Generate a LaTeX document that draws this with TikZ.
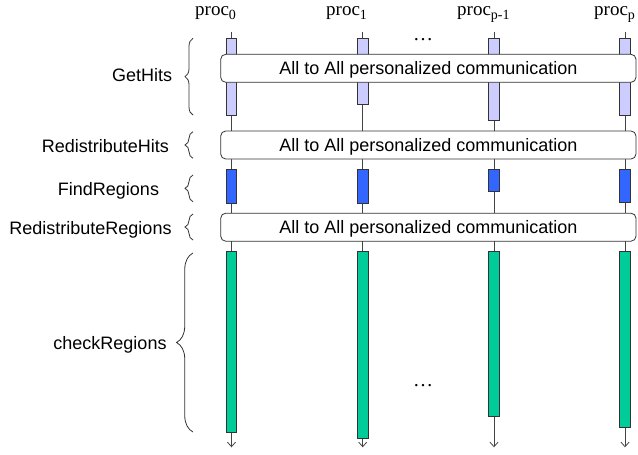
\documentclass[tikz,border=0pt]{standalone}
\usepackage{fontspec}
\setmainfont{Liberation Serif}
\setsansfont{Liberation Sans}
\usetikzlibrary{decorations.pathreplacing,arrows.meta}
\definecolor{lav}{HTML}{CCCCFF}
\definecolor{bblue}{HTML}{3366FF}
\definecolor{bgreen}{HTML}{00CC99}
\definecolor{edge}{HTML}{333333}
\definecolor{lineg}{HTML}{444444}
\newcommand{\procsub}[1]{\raisebox{-4pt}{\fontsize{14}{14}\selectfont #1}}
\begin{document}
\begin{tikzpicture}[x=1pt,y=-1pt,
  proclab/.style={font=\fontsize{19}{22}\selectfont, anchor=base west, inner sep=0pt},
  dots/.style={font=\fontsize{20}{24}\selectfont, anchor=base, inner sep=0pt},
  lifeline/.style={draw=lineg, line width=0.8pt, -{Straight Barb[length=4.5pt,width=8pt,line width=0.8pt]}},
  barbox/.style={draw=edge, line width=0.8pt, anchor=north, minimum width=10.5pt, inner sep=0pt},
  lavbar/.style={barbox, fill=lav},
  bluebar/.style={barbox, fill=bblue},
  greenbar/.style={barbox, fill=bgreen},
  commbox/.style={draw=edge, line width=0.8pt, fill=white, rounded corners=5pt,
    minimum width=415.3pt, minimum height=28pt, inner sep=0pt,
    font=\sffamily\fontsize{18}{21.6}\selectfont, text height=12.9pt, text depth=0pt},
  phase/.style={font=\sffamily\fontsize{18}{21.6}\selectfont, inner sep=0pt,
    text height=12.9pt, text depth=0pt},
  brc/.style={draw=edge, line width=0.8pt, decorate, decoration={brace, amplitude=#1}},
  brc/.default=8pt
]
\useasboundingbox (0,0) rectangle (638,455);

% process labels
\node[proclab] (l0) at (195,15.5) {proc\procsub{0}};
\node[proclab] (l1) at (326,15.5) {proc\procsub{1}};
\node[proclab] (l2) at (457,15.5) {proc\procsub{p-1}};
\node[proclab] (l3) at (594,15.5) {proc\procsub{p}};

% lifelines
\foreach \i/\x/\e in {0/231.5/447.3, 1/362.7/447.3, 2/494/447.3, 3/625/447.3} {
  \coordinate (t\i) at (\x,31.7);
  \coordinate (e\i) at (\x,\e);
  \draw[lifeline] (t\i) -- (e\i);
}

% GetHits bars
\node[lavbar, minimum height=76.7pt] (g0) at (231.5,38.3) {};
\node[lavbar, minimum height=65.7pt] (g1) at (362.7,38.3) {};
\node[lavbar, minimum height=81.7pt] (g2) at (494,38.3) {};
\node[lavbar, minimum height=76.7pt] (g3) at (625,38.3) {};

% FindRegions bars
\node[bluebar, minimum height=33.4pt] (f0) at (231.5,169.3) {};
\node[bluebar, minimum height=33.4pt] (f1) at (362.7,169.3) {};
\node[bluebar, minimum height=22pt] (f2) at (494,169.3) {};
\node[bluebar, minimum height=33pt] (f3) at (625,169.3) {};

% checkRegions bars
\node[greenbar, minimum height=181.3pt] (c0) at (231.5,251) {};
\node[greenbar, minimum height=186.7pt] (c1) at (362.7,251) {};
\node[greenbar, minimum height=164.7pt] (c2) at (494,251) {};
\node[greenbar, minimum height=175.7pt] (c3) at (625,251) {};

% communication boxes
\node[commbox] (b1) at (428.35,68.3) {All to All personalized communication};
\node[commbox] (b2) at (428.35,145) {All to All personalized communication};
\node[commbox] (b3) at (428.35,227.2) {All to All personalized communication};

% dots
\node[dots] (d1) at (423,40) {\textellipsis};
\node[dots] (d2) at (423,386) {\textellipsis};

% braces
\draw[brc] (193,115) -- (193,38.3);
\draw[brc] (193,158.3) -- (193,131.7);
\draw[brc] (193,201.7) -- (193,175);
\draw[brc] (193,240) -- (193,214);
\draw[brc=16.5pt] (193,432) -- (193,253);

% phase labels
\node[phase] (p1) at (142.2,75) {GetHits};
\node[phase] (p2) at (105.3,146) {RedistributeHits};
\node[phase] (p3) at (108.5,189.3) {FindRegions};
\node[phase] (p4) at (90.5,228) {RedistributeRegions};
\node[phase] (p5) at (110,343) {checkRegions};
\end{tikzpicture}
\end{document}
